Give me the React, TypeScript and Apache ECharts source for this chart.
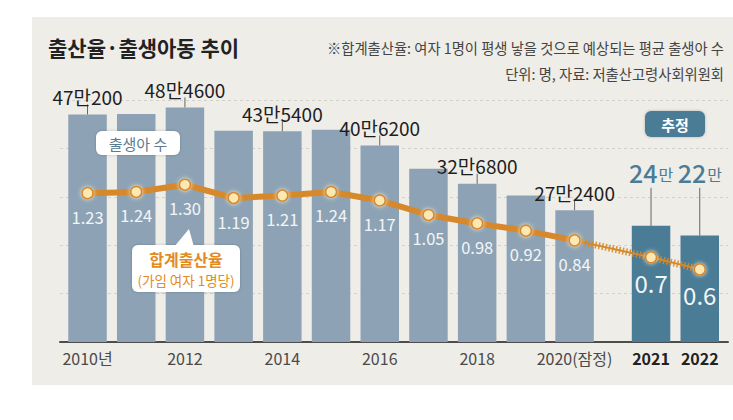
import React, { useEffect, useRef } from "react";
import * as echarts from "echarts";

// ---- data ----
const years = ["2010", "2011", "2012", "2013", "2014", "2015", "2016", "2017", "2018", "2019", "2020", "2021", "2022"];
const axisLabels = ["2010년", "", "2012", "", "2014", "", "2016", "", "2018", "", "2020(잠정)", "2021", "2022"];
const births = [470200, 471300, 484600, 436500, 435400, 438400, 406200, 357800, 326800, 302700, 272400, 240000, 220000];
const rates = [1.23, 1.24, 1.3, 1.19, 1.21, 1.24, 1.17, 1.05, 0.98, 0.92, 0.84, 0.7, 0.6];
const estimated = [false, false, false, false, false, false, false, false, false, false, false, true, true];
const labeled = [true, false, true, false, true, false, true, false, true, false, true, true, true];

const titleText = "출산율·출생아동 추이";
const noteText = "※합계출산율: 여자 1명이 평생 낳을 것으로 예상되는 평균 출생아 수";
const sourceText = "단위: 명, 자료: 저출산고령사회위원회";
const birthsName = "출생아 수";
const rateName = "합계출산율";
const rateSub = "(가임 여자 1명당)";
const estimateName = "추정";

// ---- layout constants ----
const ESTIMATE_GAP = 0.57;
const FONT = '"Noto Sans CJK KR", "Noto Sans", sans-serif';
const BAR_COLOR = "#8da3b5";
const EST_COLOR = "#4b7c96";
const LINE_COLOR = "#d6882a";

const pos = years.map((_, i) => i + (estimated[i] ? ESTIMATE_GAP : 0));

const fmtBirths = (v: number) => {
  const man = Math.floor(v / 10000);
  const rest = v % 10000;
  return rest ? `${man}만${rest}` : `${man}만`;
};

export default function App() {
  const ref = useRef<HTMLDivElement>(null);

  useEffect(() => {
    if (!ref.current) return;
    const chart = echarts.init(ref.current, null, { renderer: "svg" });

    const lastActual = estimated.indexOf(true) - 1;
    const maxEst = Math.max(...births.filter((_, i) => estimated[i]));
    const dividerX = (pos[lastActual] + pos[lastActual + 1]) / 2;

    const labelData = births
      .map((v, i) => ({ i, v }))
      .filter((d) => labeled[d.i])
      .map((d) => [pos[d.i], d.v, estimated[d.i] ? 1 : 0]);

    const Z = 100;
    const option: any = {
      animation: false,
      grid: { left: 60, right: 5, top: 100, bottom: 78, containLabel: false },
      xAxis: {
        type: "value",
        min: -0.565,
        max: 13.15,
        splitLine: { show: false },
        axisTick: { show: false },
        axisLine: { show: true, lineStyle: { color: "#4d4d4d", width: 2 } },
        axisLabel: {
          customValues: pos.filter((_, i) => axisLabels[i] !== ""),
          margin: 8,
          fontFamily: FONT,
          fontSize: 16,
          color: "#4a4a4a",
          formatter: (value: number) => {
            const idx = pos.findIndex((p) => Math.abs(p - value) < 1e-6);
            if (idx < 0) return "";
            return estimated[idx] ? `{b|${axisLabels[idx]}}` : axisLabels[idx];
          },
          rich: {
            b: { fontFamily: FONT, fontSize: 16, fontWeight: "bold", color: "#222" },
          },
        },
      },
      yAxis: [
        {
          type: "value",
          min: 0,
          max: 500000,
          interval: 100000,
          axisLabel: { show: false },
          axisLine: { show: false },
          axisTick: { show: false },
          splitLine: { show: true, lineStyle: { color: "#d4d1ca", type: [3, 3], width: 1 } },
        },
        {
          type: "value",
          min: 0,
          max: 2,
          show: false,
          splitLine: { show: false },
        },
      ],
      series: [
        {
          type: "bar",
          name: birthsName,
          barWidth: 38.5,
          data: births.map((v, i) => ({
            value: [pos[i], v],
            itemStyle: { color: estimated[i] ? EST_COLOR : BAR_COLOR },
          })),
          z: 2,
          markLine: {
            silent: true,
            symbol: "none",
            label: { show: false },
            lineStyle: {
              color: "#cfccc5",
              type: "solid",
              width: 1.5,
              shadowColor: "rgba(0,0,0,0.15)",
              shadowBlur: 3,
              shadowOffsetX: 1,
            },
            data: [{ xAxis: dividerX }],
          },
        },
        {
          type: "custom",
          name: "births-labels",
          data: labelData,
          z: 5,
          renderItem: (params: any, api: any) => {
            const x = api.value(0);
            const v = api.value(1);
            const est = api.value(2) === 1;
            const p = api.coord([x, v]);
            if (!est) {
              const cy = p[1] - 18;
              return {
                type: "group",
                children: [
                  {
                    type: "line",
                    shape: { x1: p[0], y1: p[1], x2: p[0], y2: cy + 8 },
                    style: { stroke: "#666", lineWidth: 1 },
                  },
                  {
                    type: "text",
                    style: {
                      x: p[0],
                      y: cy,
                      text: fmtBirths(v),
                      align: "center",
                      verticalAlign: "middle",
                      fontFamily: FONT,
                      fontSize: 19,
                      fill: "#1e1e1e",
                    },
                  },
                ],
              };
            }
            const top = api.coord([x, maxEst])[1];
            const cy = top - 54;
            const man = Math.floor(v / 10000);
            return {
              type: "group",
              children: [
                {
                  type: "line",
                  shape: { x1: p[0], y1: p[1], x2: p[0], y2: cy + 16 },
                  style: { stroke: "#666", lineWidth: 1 },
                },
                {
                  type: "text",
                  style: {
                    x: p[0],
                    y: cy,
                    text: `{n|${man}}{u|만}`,
                    align: "center",
                    verticalAlign: "middle",
                    rich: {
                      n: { fontFamily: FONT, fontSize: 25, fill: EST_COLOR, fontWeight: 500 },
                      u: { fontFamily: FONT, fontSize: 16, fill: EST_COLOR, padding: [4, 0, 0, 1] },
                    },
                  },
                },
              ],
            };
          },
        },
        {
          type: "line",
          name: "projection-base",
          yAxisIndex: 1,
          data: rates.map((r, i) => (i >= lastActual ? [pos[i], r] : null)).filter((d) => d),
          symbol: "none",
          lineStyle: { color: LINE_COLOR, width: 2 },
          z: 3,
        },
        {
          type: "line",
          name: rateName + " " + estimateName,
          yAxisIndex: 1,
          data: rates
            .map((r, i) => (i >= lastActual ? { value: [pos[i], r], i } : null))
            .filter((d) => d)
            .map((d: any) => ({
              value: d.value,
              symbol: d.i === lastActual ? "none" : "circle",
              label: { show: d.i !== lastActual },
            })),
          symbol: "circle",
          symbolSize: 11,
          itemStyle: {
            color: "#fce8b2",
            borderColor: LINE_COLOR,
            borderWidth: 1.5,
            shadowColor: "rgba(255,240,200,0.9)",
            shadowBlur: 4,
          },
          lineStyle: { color: LINE_COLOR, width: 7, type: [1.5, 2], opacity: 0.9 },
          label: {
            show: true,
            position: "bottom",
            distance: 7,
            fontFamily: FONT,
            fontSize: 24,
            color: "#f2f6f8",
            formatter: (p: any) => String(p.value[1]),
          },
          z: 3,
        },
        {
          type: "line",
          name: rateName,
          yAxisIndex: 1,
          data: rates.map((r, i) => (i <= lastActual ? [pos[i], r] : null)).filter((d) => d),
          symbol: "circle",
          symbolSize: 11,
          itemStyle: {
            color: "#fce8b2",
            borderColor: LINE_COLOR,
            borderWidth: 1.5,
            shadowColor: "rgba(255,240,200,0.9)",
            shadowBlur: 4,
          },
          lineStyle: { color: LINE_COLOR, width: 6 },
          label: {
            show: true,
            position: "bottom",
            distance: 9,
            fontFamily: FONT,
            fontSize: 16.5,
            color: "#f2f6f8",
            formatter: (p: any) => p.value[1].toFixed(2),
          },
          z: 4,
        },
      ],
      graphic: [
        {
          type: "text",
          x: 48,
          y: 47,
          z: Z,
          style: {
            text: titleText,
            fontFamily: FONT,
            fontSize: 21,
            fontWeight: "bold",
            fill: "#222",
            verticalAlign: "middle",
          },
        },
        {
          type: "text",
          x: 724,
          y: 47,
          z: Z,
          style: {
            text: noteText,
            fontFamily: FONT,
            fontSize: 14.3,
            fill: "#444",
            align: "right",
            verticalAlign: "middle",
          },
        },
        {
          type: "text",
          x: 724,
          y: 73,
          z: Z,
          style: {
            text: sourceText,
            fontFamily: FONT,
            fontSize: 14.3,
            fill: "#444",
            align: "right",
            verticalAlign: "middle",
          },
        },
        {
          type: "rect",
          z: Z,
          shape: { x: 96, y: 131, width: 84, height: 24, r: 6 },
          style: { fill: "#ffffff", shadowColor: "rgba(0,0,0,0.2)", shadowBlur: 3 },
        },
        {
          type: "text",
          z: Z + 1,
          x: 138,
          y: 143,
          style: {
            text: birthsName,
            fontFamily: FONT,
            fontSize: 15,
            fill: "#5b7b92",
            align: "center",
            verticalAlign: "middle",
          },
        },
        {
          type: "rect",
          z: Z,
          shape: { x: 132, y: 245, width: 108, height: 47, r: 6 },
          style: { fill: "#ffffff", shadowColor: "rgba(0,0,0,0.2)", shadowBlur: 3 },
        },
        {
          type: "polygon",
          z: Z + 1,
          shape: { points: [[174, 247], [189, 229], [194, 247]] },
          style: { fill: "#ffffff" },
        },
        {
          type: "text",
          z: Z + 2,
          x: 186,
          y: 259,
          style: {
            text: rateName,
            fontFamily: FONT,
            fontSize: 16,
            fontWeight: "bold",
            fill: "#e38b1e",
            align: "center",
            verticalAlign: "middle",
          },
        },
        {
          type: "text",
          z: Z + 2,
          x: 186,
          y: 280,
          style: {
            text: rateSub,
            fontFamily: FONT,
            fontSize: 13.5,
            fill: "#e38b1e",
            align: "center",
            verticalAlign: "middle",
          },
        },
        {
          type: "rect",
          z: Z,
          shape: { x: 645, y: 111, width: 60, height: 26, r: 6 },
          style: { fill: EST_COLOR, shadowColor: "rgba(0,0,0,0.25)", shadowBlur: 3 },
        },
        {
          type: "text",
          z: Z + 1,
          x: 675,
          y: 124,
          style: {
            text: estimateName,
            fontFamily: FONT,
            fontSize: 15,
            fontWeight: "bold",
            fill: "#ffffff",
            align: "center",
            verticalAlign: "middle",
          },
        },
      ],
    };

    chart.setOption(option);
    return () => chart.dispose();
  }, []);

  return (
    <div style={{ position: "fixed", left: 0, top: 0, width: 733, height: 420, background: "#ffffff" }}>
      <div
        style={{
          position: "absolute",
          left: 32,
          top: 17,
          width: 701,
          height: 368,
          background: "#efede8",
        }}
      />
      <div ref={ref} style={{ position: "absolute", left: 0, top: 0, width: 733, height: 420 }} />
    </div>
  );
}
